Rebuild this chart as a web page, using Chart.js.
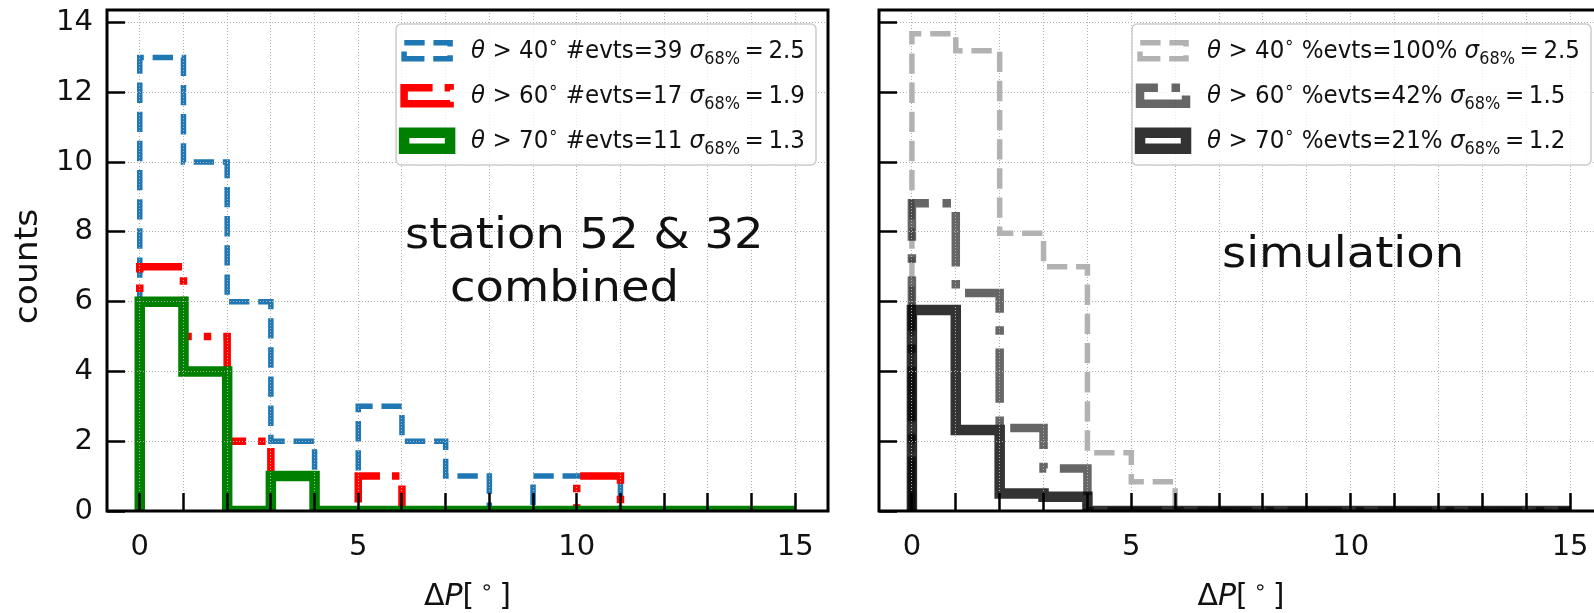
<!DOCTYPE html>
<html>
<head>
<meta charset="utf-8">
<script src="https://cdn.jsdelivr.net/npm/chart.js@4.4.1/dist/chart.umd.min.js"></script>
<style>
  html, body { margin: 0; padding: 0; background: #fff; overflow: hidden; width: 1594px; height: 613px; }
  canvas { position: absolute; top: 0; }
  #data-panel { left: 0; }
  #sim-panel { left: 845px; }
</style>
</head>
<body>
<canvas id="data-panel" width="845" height="613" style="width:845px;height:613px"></canvas>
<canvas id="sim-panel" width="775" height="613" style="width:775px;height:613px"></canvas>
<script>
// histogram bins (degrees) and axis ticks
const binEdges = [0, 1, 2, 3, 4, 5, 6, 7, 8, 9, 10, 11, 12, 13, 14, 15];
const xTickValues = [0, 1, 2, 3, 4, 5, 6, 7, 8, 9, 10, 11, 12, 13, 14, 15];
const xTickLabels = [0, 5, 10, 15];
const yTickValues = [0, 2, 4, 6, 8, 10, 12, 14];

// measured events, stations 52 & 32
const data40 = [13, 10, 6, 2, 0, 3, 2, 1, 0, 1, 1, 0, 0, 0, 0];
const data60 = [7, 5, 2, 1, 0, 1, 0, 0, 0, 0, 1, 0, 0, 0, 0];
const data70 = [6, 4, 0, 1, 0, 0, 0, 0, 0, 0, 0, 0, 0, 0, 0];

// simulation, scaled to the measured total
const sim40 = [13.68, 13.19, 7.96, 7.0, 1.67, 0.84, 0, 0, 0, 0, 0, 0, 0, 0, 0];
const sim60 = [8.82, 6.25, 2.38, 1.22, 0, 0, 0, 0, 0, 0, 0, 0, 0, 0, 0];
const sim70 = [5.76, 2.32, 0.5, 0.41, 0, 0, 0, 0, 0, 0, 0, 0, 0, 0, 0];

// legend numbers
const thetaCuts = [40, 60, 70];
const dataEvts = ['#evts=39', '#evts=17', '#evts=11'];
const dataSigma = ['2.5', '1.9', '1.3'];
const simEvts = ['%evts=100%', '%evts=42%', '%evts=21%'];
const simSigma = ['2.5', '1.5', '1.2'];

const FONT = "'DejaVu Sans', sans-serif";
const dashed = w => [3.7 * w, 1.6 * w];
const dashDot = w => [6.4 * w, 1.6 * w, 1 * w, 1.6 * w];

const dataSeries = [
  { counts: data40, color: '#1f77b4', width: 5.5, dash: dashed(5.5), order: 3 },
  { counts: data60, color: '#ff0000', width: 7.5, dash: dashDot(7.5), order: 2 },
  { counts: data70, color: '#008000', width: 10.5, dash: [], order: 1 },
];
const simSeries = [
  { counts: sim40, color: 'rgba(0,0,0,0.3)', width: 5.5, dash: dashed(5.5), order: 3 },
  { counts: sim60, color: 'rgba(0,0,0,0.6)', width: 8.5, dash: dashDot(8.5), order: 2 },
  { counts: sim70, color: 'rgba(0,0,0,0.8)', width: 10.5, dash: [], order: 1 },
];

// outline of a step histogram: up at the first edge, across each bin, down at the last edge
function stepPoints(counts) {
  const pts = [{ x: binEdges[0], y: 0 }];
  counts.forEach((c, i) => pts.push({ x: binEdges[i], y: c }));
  pts.push({ x: binEdges[binEdges.length - 1], y: 0 });
  return pts;
}

function fontFor(p, size) {
  return `${p.italic ? 'italic ' : ''}${(size * (p.scale || 1)).toFixed(2)}px ${FONT}`;
}
function richWidth(ctx, parts, size) {
  let w = 0;
  for (const p of parts) { ctx.font = fontFor(p, size); w += ctx.measureText(p.t).width; }
  return w;
}
function drawRich(ctx, parts, x, y, size) {
  let cx = x;
  for (const p of parts) {
    ctx.font = fontFor(p, size);
    ctx.fillText(p.t, cx, y + (p.dy || 0) * size);
    cx += ctx.measureText(p.t).width;
  }
  return cx - x;
}

function legendParts(theta, evts, sigma) {
  return [
    { t: 'θ', italic: true }, { t: ' > ' + theta }, { t: '∘', scale: 0.7, dy: -0.4 },
    { t: ' ' + evts + ' ' }, { t: 'σ', italic: true }, { t: '68%', scale: 0.7, dy: 0.22 },
    { t: '\u2009=\u2009' + sigma },
  ];
}
const xLabelParts = [{ t: 'Δ' }, { t: 'P', italic: true }, { t: '[\u2009' }, { t: '∘', scale: 0.7, dy: -0.38 }, { t: '\u2009]' }];

// legend text is set a little narrow
const LEGEND_FS = 25;
const LEGEND_SX = 0.92;

// frame, axis titles, legend and panel caption
const panelDecor = {
  id: 'panelDecor',
  afterDraw(chart, args, o) {
    const { ctx, chartArea: a } = chart;
    ctx.save();
    ctx.strokeStyle = '#000';
    ctx.lineWidth = 3;
    ctx.setLineDash([]);
    ctx.strokeRect(a.left, a.top, a.right - a.left, a.bottom - a.top);

    ctx.fillStyle = '#111';
    ctx.textBaseline = 'alphabetic';
    ctx.textAlign = 'left';

    // x title, centred on the plot area
    const xw = richWidth(ctx, xLabelParts, 30);
    drawRich(ctx, xLabelParts, (a.left + a.right) / 2 - xw / 2, 605, 30);

    if (o.yTitle) {
      ctx.save();
      ctx.translate(37, 266.5);
      ctx.rotate(-Math.PI / 2);
      ctx.scale(1.08, 1);
      ctx.textAlign = 'center';
      ctx.font = `32px ${FONT}`;
      ctx.fillText(o.yTitle, 0, 0);
      ctx.restore();
    }

    // caption inside the plot, slightly widened
    ctx.font = `${o.caption.size}px ${FONT}`;
    o.caption.lines.forEach(l => {
      ctx.save();
      ctx.translate(l.x, l.y);
      ctx.scale(1.08, 1);
      ctx.fillText(l.text, 0, 0);
      ctx.restore();
    });

    // legend
    const rows = o.legend.map((r, i) => legendParts(thetaCuts[i], r.evts, r.sigma));
    const textW = LEGEND_SX * Math.max(...rows.map(r => richWidth(ctx, r, LEGEND_FS)));
    const boxR = a.right - 12;
    const boxL = boxR - 11 - textW - 75;
    const boxT = 24, boxB = 165;
    ctx.beginPath();
    ctx.roundRect(boxL, boxT, boxR - boxL, boxB - boxT, 5);
    ctx.fillStyle = 'rgba(255,255,255,0.8)';
    ctx.fill();
    ctx.strokeStyle = '#cccccc';
    ctx.lineWidth = 1.5;
    ctx.stroke();

    rows.forEach((parts, i) => {
      const base = 58.3 + i * 45;
      const s = o.series[i];
      const hx = boxL + 8, cy = base - 7.5;
      ctx.save();
      ctx.strokeStyle = s.color;
      ctx.lineWidth = s.width;
      ctx.lineJoin = 'miter';
      ctx.lineCap = 'butt';
      ctx.setLineDash(s.dash);
      ctx.beginPath();
      ctx.moveTo(hx, cy + 8);
      ctx.lineTo(hx + 46, cy + 8);
      ctx.lineTo(hx + 46, cy - 8);
      ctx.lineTo(hx, cy - 8);
      ctx.closePath();
      ctx.stroke();
      ctx.restore();

      ctx.save();
      ctx.fillStyle = '#111';
      ctx.translate(boxL + 75, base);
      ctx.scale(LEGEND_SX, 1);
      drawRich(ctx, parts, 0, 0, LEGEND_FS);
      ctx.restore();
    });
    ctx.restore();
  }
};

const tickFont = { family: FONT, size: 29 };

function panelConfig(series, decor, yWidth, padRight, yLabels) {
  return {
    type: 'line',
    data: {
      datasets: series.map(s => ({
        data: stepPoints(s.counts),
        borderColor: s.color,
        borderWidth: s.width,
        borderDash: s.dash,
        borderCapStyle: 'butt',
        borderJoinStyle: 'miter',
        stepped: 'before',
        pointRadius: 0,
        fill: false,
        clip: 0,
        order: s.order,
      })),
    },
    options: {
      responsive: false,
      animation: false,
      events: [],
      layout: { padding: { left: 0, top: 10, right: padRight, bottom: 0 } },
      plugins: { legend: { display: false }, tooltip: { enabled: false }, panelDecor: decor },
      scales: {
        x: {
          type: 'linear', min: -0.75, max: 15.75,
          afterBuildTicks: s => { s.ticks = xTickValues.map(v => ({ value: v })); },
          afterFit: s => { s.height = 102; s.paddingLeft = 0; s.paddingRight = 0; },
          ticks: {
            autoSkip: false, maxRotation: 0, padding: 37, color: '#111', font: tickFont,
            callback: v => (xTickLabels.includes(v) ? String(v) : ''),
          },
          grid: { z: 1, color: '#b0b0b0', lineWidth: 1, tickLength: -18, tickWidth: 2.5, tickColor: '#000' },
          border: { display: false, dash: [1, 2] },
        },
        y: {
          type: 'linear', min: 0, max: 14.36,
          afterBuildTicks: s => { s.ticks = yTickValues.map(v => ({ value: v })); },
          afterFit: s => { s.width = yWidth; s.paddingTop = 0; s.paddingBottom = 0; },
          ticks: {
            padding: 32, color: '#111', font: tickFont,
            callback: v => (yLabels ? String(v) : ''),
          },
          grid: { z: 1, color: '#b0b0b0', lineWidth: 1, tickLength: -18, tickWidth: 2.5, tickColor: '#000' },
          border: { display: false, dash: [1, 2] },
        },
      },
    },
    plugins: [panelDecor],
  };
}

new Chart(document.getElementById('data-panel'), panelConfig(dataSeries, {
  yTitle: 'counts',
  series: dataSeries,
  legend: dataEvts.map((e, i) => ({ evts: e, sigma: dataSigma[i] })),
  caption: { size: 43, lines: [{ text: 'station 52 & 32', x: 405, y: 248 }, { text: 'combined', x: 450, y: 301 }] },
}, 107, 17, true));

new Chart(document.getElementById('sim-panel'), panelConfig(simSeries, {
  yTitle: null,
  series: simSeries,
  legend: simEvts.map((e, i) => ({ evts: e, sigma: simSigma[i] })),
  caption: { size: 43, lines: [{ text: 'simulation', x: 377, y: 267 }] },
}, 34, 17, false));
</script>
</body>
</html>
